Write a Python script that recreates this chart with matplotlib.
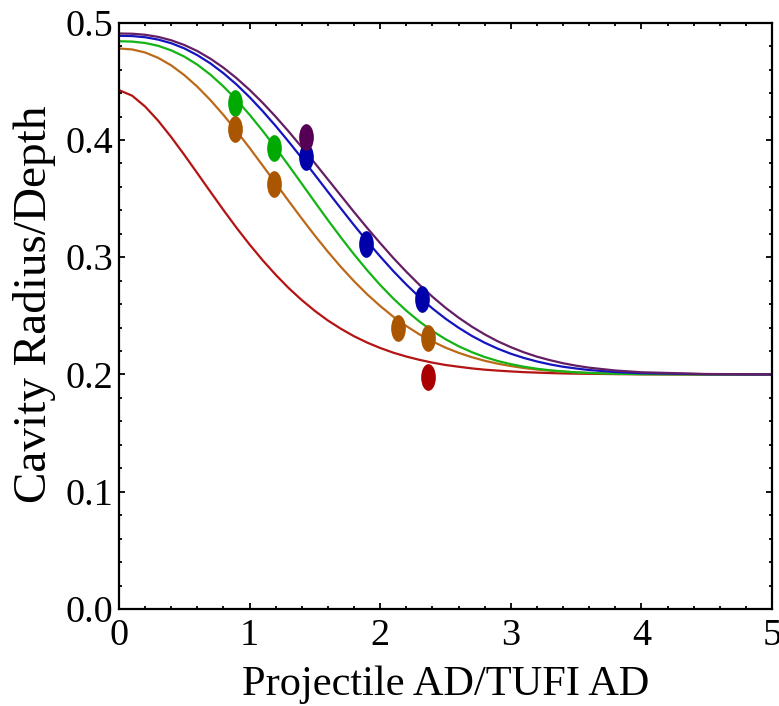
import numpy as np
import matplotlib
matplotlib.use("Agg")
import matplotlib.pyplot as plt
from matplotlib.path import Path
from matplotlib.ticker import MultipleLocator, FormatStrFormatter

# ---- data ----
x_curve = [0.0, 0.1, 0.2, 0.3, 0.4, 0.5, 0.6, 0.7, 0.8, 0.9, 1.0, 1.1, 1.2, 1.3, 1.4,
           1.5, 1.6, 1.7, 1.8, 1.9, 2.0, 2.1, 2.2, 2.3, 2.4, 2.5, 2.6, 2.7, 2.8, 2.9,
           3.0, 3.1, 3.2, 3.3, 3.4, 3.5, 3.6, 3.8, 4.0, 4.5, 5.0]
purple_curve = [0.4908, 0.4906, 0.4897, 0.4879, 0.4850, 0.4810, 0.4758, 0.4693, 0.4616,
                0.4527, 0.4427, 0.4317, 0.4198, 0.4071, 0.3938, 0.3802, 0.3663, 0.3524,
                0.3385, 0.3250, 0.3120, 0.2994, 0.2876, 0.2765, 0.2663, 0.2569, 0.2485,
                0.2409, 0.2342, 0.2283, 0.2233, 0.2189, 0.2152, 0.2122, 0.2096, 0.2075,
                0.2058, 0.2034, 0.2019, 0.2004, 0.2001]
blue_curve = [0.4888, 0.4886, 0.4876, 0.4856, 0.4825, 0.4781, 0.4723, 0.4653, 0.4569,
              0.4473, 0.4365, 0.4246, 0.4119, 0.3984, 0.3845, 0.3702, 0.3557, 0.3414,
              0.3273, 0.3136, 0.3006, 0.2882, 0.2767, 0.2660, 0.2563, 0.2476, 0.2399,
              0.2330, 0.2271, 0.2220, 0.2177, 0.2141, 0.2111, 0.2086, 0.2066, 0.2051,
              0.2038, 0.2021, 0.2011, 0.2002, 0.2000]
green_curve = [0.4842, 0.4839, 0.4827, 0.4803, 0.4764, 0.4711, 0.4642, 0.4557, 0.4456,
               0.4342, 0.4215, 0.4078, 0.3932, 0.3781, 0.3626, 0.3470, 0.3316, 0.3167,
               0.3024, 0.2889, 0.2763, 0.2648, 0.2544, 0.2452, 0.2371, 0.2301, 0.2241,
               0.2191, 0.2149, 0.2115, 0.2088, 0.2066, 0.2049, 0.2036, 0.2026, 0.2018,
               0.2013, 0.2006, 0.2003, 0.2000, 0.2000]
brown_curve = [0.4780, 0.4772, 0.4746, 0.4700, 0.4636, 0.4553, 0.4454, 0.4340, 0.4213,
               0.4076, 0.3932, 0.3782, 0.3630, 0.3478, 0.3329, 0.3184, 0.3046, 0.2916,
               0.2795, 0.2684, 0.2584, 0.2493, 0.2413, 0.2342, 0.2282, 0.2229, 0.2185,
               0.2148, 0.2117, 0.2092, 0.2072, 0.2055, 0.2042, 0.2032, 0.2024, 0.2018,
               0.2013, 0.2007, 0.2003, 0.2001, 0.2000]
red_curve = [0.4425, 0.4378, 0.4285, 0.4164, 0.4024, 0.3873, 0.3716, 0.3558, 0.3402,
             0.3251, 0.3108, 0.2974, 0.2850, 0.2736, 0.2634, 0.2542, 0.2460, 0.2389,
             0.2326, 0.2272, 0.2226, 0.2186, 0.2153, 0.2125, 0.2101, 0.2081, 0.2066,
             0.2052, 0.2041, 0.2033, 0.2026, 0.2020, 0.2016, 0.2012, 0.2009, 0.2007,
             0.2006, 0.2003, 0.2002, 0.2000, 0.2000]

green_pts_x = [0.888, 1.186]
green_pts_y = [0.4316, 0.3930]
brown_pts_x = [0.888, 1.186, 2.136, 2.364]
brown_pts_y = [0.4092, 0.3623, 0.2400, 0.2313]
blue_pts_x = [1.430, 1.889, 2.320]
blue_pts_y = [0.3856, 0.3110, 0.2640]
purple_pts_x = [1.430]
purple_pts_y = [0.4027]
red_pts_x = [2.364]
red_pts_y = [0.1980]

x_ticks = [0, 1, 2, 3, 4, 5]
y_ticks = [0.0, 0.1, 0.2, 0.3, 0.4, 0.5]
x_label = "Projectile AD/TUFI AD"
y_label = "Cavity Radius/Depth"

# ---- styling ----
plt.rcParams['font.family'] = ['Liberation Serif', 'DejaVu Serif']

fig = plt.figure(figsize=(7.79, 7.06), dpi=100)
ax = fig.add_axes([119/779, 1 - 609/706, (772-119)/779, (609-22.7)/706])

line_cols = {'purple': '#641e64', 'blue': '#1414c0', 'green': '#14b414',
             'brown': '#bc6a1a', 'red': '#b41414'}
dot_cols = {'purple': '#550055', 'blue': '#0000aa', 'green': '#00aa00',
            'brown': '#aa5500', 'red': '#aa0000'}

for name, ys in [('red', red_curve), ('brown', brown_curve), ('green', green_curve),
                 ('blue', blue_curve), ('purple', purple_curve)]:
    ax.plot(x_curve, ys, color=line_cols[name], lw=1.6, solid_capstyle='round',
            solid_joinstyle='round', zorder=2)

# vertically elongated ellipse marker
circ = Path.unit_circle()
ell = Path(circ.vertices * np.array([0.55, 1.0]), circ.codes)
msize = 26.7 * 72 / 100

for name, xs, ys in [('green', green_pts_x, green_pts_y), ('brown', brown_pts_x, brown_pts_y),
                     ('blue', blue_pts_x, blue_pts_y), ('red', red_pts_x, red_pts_y),
                     ('purple', purple_pts_x, purple_pts_y)]:
    ax.plot(xs, ys, linestyle='none', marker=ell, markersize=msize,
            markerfacecolor=dot_cols[name], markeredgecolor='none', zorder=3)

ax.set_xlim(0, 5)
ax.set_ylim(0, 0.5)
ax.set_xticks(x_ticks)
ax.set_yticks(y_ticks)
ax.yaxis.set_major_formatter(FormatStrFormatter('%.1f'))
ax.xaxis.set_minor_locator(MultipleLocator(0.2))
ax.yaxis.set_minor_locator(MultipleLocator(0.02))
ax.tick_params(which='both', direction='in', top=True, right=True, width=1.3, colors='black')
ax.tick_params(which='major', length=4.5, labelsize=27.5)
ax.tick_params(axis='x', which='major', pad=7)
ax.tick_params(axis='y', which='major', pad=4)
ax.tick_params(which='minor', length=2.5)
for s in ax.spines.values():
    s.set_linewidth(1.6)

ax.set_xlabel(x_label, fontsize=30.5, labelpad=9)
ax.set_ylabel(y_label, fontsize=34, labelpad=6)
ax.yaxis.set_label_coords(-0.096, 0.52)

fig.savefig("out.png", dpi=100)
